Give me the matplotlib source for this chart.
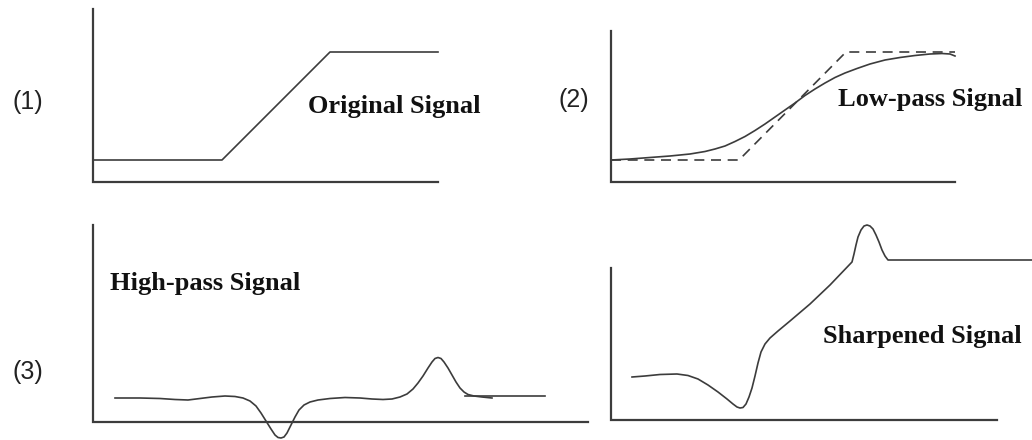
import matplotlib.pyplot as plt

# Canvas is in pixel units of the original picture (y grows downwards)
WIDTH, HEIGHT = 1032, 440
LINE_COLOR = '#3c3c3c'

# Axis frames: (x0, y_top, y_bottom, x_end)
axis_frames = [
    (93, 9, 182, 438),
    (611, 31, 182, 955),
    (93, 225, 422, 588),
    (611, 268, 420, 997),
]

# (1) original ramp
orig_x = [93, 222, 330, 438]
orig_y = [160, 160, 52, 52]

# (2) low-pass: dashed original + smoothed curve
lp_ref_x = [611, 739, 846, 955]
lp_ref_y = [160, 160, 52, 52]
lp_x = [611, 630, 650, 670, 690, 705, 715, 725, 735, 745, 755, 765, 775,
        785, 795, 805, 815, 825, 835, 845, 857, 870, 885, 900, 915, 930,
        942, 950, 955]
lp_y = [160, 159, 157.5, 156, 154, 151.5, 149, 146, 141.5, 136.5, 130.5,
        124, 117, 110, 103, 95.5, 89, 83, 77.5, 73, 68.5, 64, 60, 57.5,
        55.5, 54, 53.5, 54, 56]

# (3) high-pass
hp_x = [115, 140, 160, 175, 188, 200, 212, 225, 235, 243, 250, 256, 261,
        266, 271, 275, 278, 281, 284, 287, 291, 295, 299, 304, 310, 318,
        330, 345, 360, 372, 383, 392, 400, 407, 413, 418, 423, 428, 432,
        435, 438, 441, 444, 448, 452, 456, 460, 464, 468, 474, 482, 492]
hp_y = [398, 398, 398.5, 399.5, 400, 398.5, 397, 396, 396.5, 398, 401, 406,
        413, 421, 429, 435, 437.5, 438, 437, 433, 425, 417, 410, 405, 402,
        400, 398.5, 397.5, 398, 399, 399.5, 399, 397, 394, 389, 383, 376,
        368, 362, 358.5, 357.5, 358.5, 362, 368, 375, 382, 388, 392, 394.5,
        396, 397, 398]
hp_tail_x = [465, 545]
hp_tail_y = [396, 396]

# (4) sharpened
sh_x = [632, 645, 660, 677, 688, 698, 708, 718, 727, 733, 737, 740, 743,
        746, 749, 752, 755, 758, 761, 765, 770, 778, 790, 810, 830, 852,
        854, 856, 858, 861, 864, 867, 870, 873, 876, 879, 882, 885, 888,
        1032]
sh_y = [377, 376, 374.5, 374, 375.5, 379, 385, 392, 399, 404, 407, 408,
        407.5, 404, 397, 388, 376, 363, 352, 344, 338, 331, 321, 304, 285,
        262, 254, 245, 237, 230, 226, 225, 226, 229, 235, 242, 250, 256,
        260, 260]

# Texts: (label, x, baseline y)
panel_labels = [('(1)', 13, 109), ('(2)', 558, 107), ('(3)', 12, 379)]
signal_labels = [
    ('Original Signal', 308, 113),
    ('Low-pass Signal', 838, 106),
    ('High-pass Signal', 110, 290),
    ('Sharpened Signal', 823, 343),
]

fig = plt.figure(figsize=(WIDTH / 100, HEIGHT / 100), dpi=100)
ax = fig.add_axes([0, 0, 1, 1])
ax.set_xlim(0, WIDTH)
ax.set_ylim(HEIGHT, 0)
ax.axis('off')

for x0, y_top, y_bot, x_end in axis_frames:
    ax.plot([x0, x0, x_end], [y_top, y_bot, y_bot], color=LINE_COLOR,
            lw=1.6, solid_joinstyle='miter')

ax.plot(orig_x, orig_y, color=LINE_COLOR, lw=1.2)
ax.plot(lp_ref_x, lp_ref_y, color=LINE_COLOR, lw=1.2, ls=(0, (6, 4)))
ax.plot(lp_x, lp_y, color=LINE_COLOR, lw=1.2)
ax.plot(hp_x, hp_y, color=LINE_COLOR, lw=1.2)
ax.plot(hp_tail_x, hp_tail_y, color=LINE_COLOR, lw=1.2)
ax.plot(sh_x, sh_y, color=LINE_COLOR, lw=1.2)

for txt, x, y in panel_labels:
    ax.text(x, y, txt, fontsize=18, family='Liberation Sans',
            color='#222222', ha='left', va='baseline')

for txt, x, y in signal_labels:
    ax.text(x, y, txt, fontsize=19, family='Liberation Serif',
            weight='bold', color='#111111', ha='left', va='baseline')

fig.savefig('out.png', dpi=100, facecolor='white')
